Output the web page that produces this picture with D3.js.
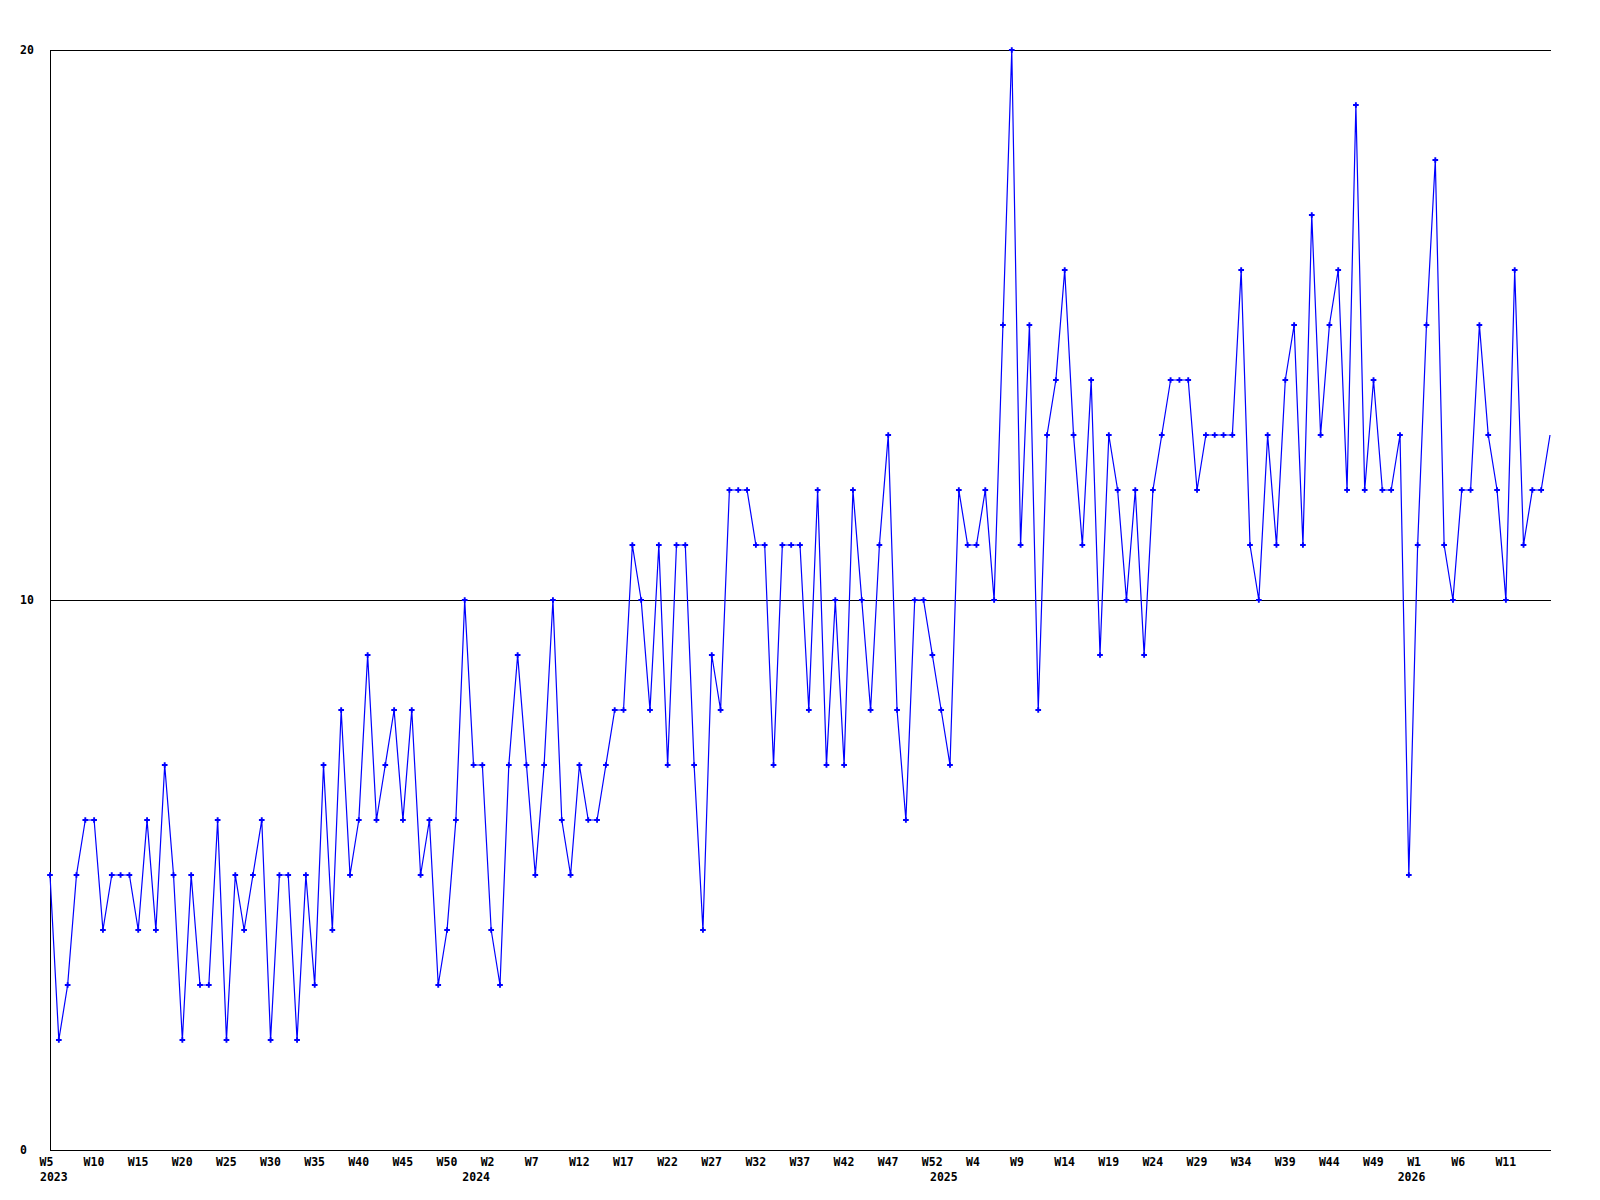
<!DOCTYPE html>
<html>
<head>
<meta charset="utf-8">
<script src="https://cdn.jsdelivr.net/npm/d3@7"></script>
<style>
  html, body { margin: 0; padding: 0; background: #fff; }
  svg { display: block; }
  text { font-family: "DejaVu Sans Mono", "Liberation Mono", monospace; font-weight: bold; font-size: 11.5px; fill: #000; }
</style>
</head>
<body>
<svg id="chart" width="1600" height="1200"></svg>
<script>
// Weekly values, 2023 W5 .. 2026 W16 (one per week)
const values = [
  5,2,3,5,6,6,4,5,5,5,4,6,4,7,5,2,5,3,3,6,2,5,4,5,6,2,5,5,2,5,
  3,7,4,8,5,6,9,6,7,8,6,8,5,6,3,4,6,10,7,7,4,3,7,9,7,5,7,10,6,5,
  7,6,6,7,8,8,11,10,8,11,7,11,11,7,4,9,8,12,12,12,11,11,7,11,11,11,8,12,7,10,
  7,12,10,8,11,13,8,6,10,10,9,8,7,12,11,11,12,10,15,20,11,15,8,13,14,16,13,11,14,9,
  13,12,10,12,9,12,13,14,14,14,12,13,13,13,13,16,11,10,13,11,14,15,11,17,13,15,16,12,19,12,
  14,12,12,13,5,11,15,18,11,10,12,12,15,13,12,10,16,11,12,12,13
];
// x-axis week labels (every 5th week)
const weekTickLabels = [
  "W5","W10","W15","W20","W25","W30","W35","W40","W45","W50",
  "W2","W7","W12","W17","W22","W27","W32","W37","W42","W47","W52",
  "W4","W9","W14","W19","W24","W29","W34","W39","W44","W49",
  "W1","W6","W11"
];
const weekTickIndex = d3.range(0, 166, 5);
// year labels and the week index of each year's first week
const yearLabels = ["2023","2024","2025","2026"];
const yearIndex = [0, 49, 102, 155];
// y-axis ticks
const yTicks = [0, 10, 20];

(function () {
  const svg = d3.select("#chart");
  const mLeft = 50, mRight = 1550, mTop = 50, mBottom = 1150;

  const x = d3.scaleLinear().domain([0, values.length - 1]).range([mLeft, mRight]);
  const y = d3.scaleLinear().domain([0, 20]).range([mBottom, mTop]);

  // horizontal grid lines / axis baseline
  svg.append("g").selectAll("line").data(yTicks).join("line")
    .attr("x1", mLeft).attr("x2", mRight + 1)
    .attr("y1", d => Math.round(y(d)) + 0.5).attr("y2", d => Math.round(y(d)) + 0.5)
    .attr("stroke", "#000").attr("stroke-width", 1).attr("shape-rendering", "crispEdges");

  // left axis line
  svg.append("line")
    .attr("x1", mLeft + 0.5).attr("x2", mLeft + 0.5)
    .attr("y1", mTop).attr("y2", mBottom + 1)
    .attr("stroke", "#000").attr("stroke-width", 1).attr("shape-rendering", "crispEdges");

  // y labels
  svg.append("g").selectAll("text").data(yTicks).join("text")
    .attr("x", 20).attr("y", d => y(d)).attr("dy", "0.36em")
    .text(d => d);

  // x week labels
  svg.append("g").selectAll("text").data(weekTickIndex).join("text")
    .attr("x", d => x(d) - 10.5).attr("y", 1166)
    .text((d, i) => weekTickLabels[i]);

  // year labels
  svg.append("g").selectAll("text").data(yearIndex).join("text")
    .attr("x", d => Math.max(40, x(d) - 20)).attr("y", 1181)
    .text((d, i) => yearLabels[i]);

  // data line
  const line = d3.line().x((d, i) => x(i)).y(d => y(d));
  svg.append("path").datum(values)
    .attr("d", line)
    .attr("fill", "none").attr("stroke", "#0000ff").attr("stroke-width", 1.2);

  // markers
  const markerPath = d3.symbol().type(d3.symbolCross).size(18);
  svg.append("g").selectAll("path").data(values.slice(0, values.length - 1)).join("path")
    .attr("transform", (d, i) => `translate(${x(i)},${y(d)})`)
    .attr("d", markerPath)
    .attr("fill", "#0000ff");
})();
</script>
</body>
</html>
